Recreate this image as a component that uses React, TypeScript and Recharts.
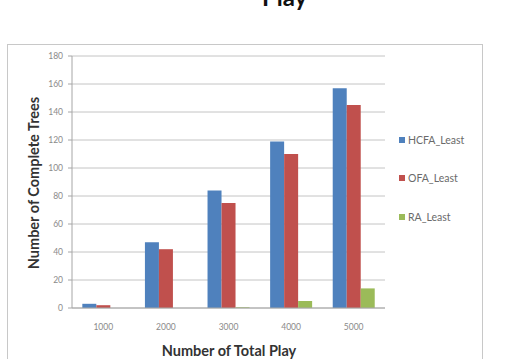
import { BarChart, Bar, XAxis, YAxis, CartesianGrid } from "recharts";

const plays = ["1000", "2000", "3000", "4000", "5000"];
const hcfaLeast = [3, 47, 84, 119, 157];
const ofaLeast = [2, 42, 75, 110, 145];
const raLeast = [0, 0, 0.5, 5, 14];
const yTicks = [0, 20, 40, 60, 80, 100, 120, 140, 160, 180];

const series = [
  { key: "HCFA_Least", color: "#4f81bd", values: hcfaLeast },
  { key: "OFA_Least", color: "#c0504d", values: ofaLeast },
  { key: "RA_Least", color: "#9bbb59", values: raLeast },
];

const data = plays.map((p, i) => ({
  play: p,
  HCFA_Least: hcfaLeast[i],
  OFA_Least: ofaLeast[i],
  RA_Least: raLeast[i],
}));

const font = "Lato, 'Open Sans', sans-serif";
const tick = { fill: "#8a8a8a", fontSize: 8.5, fontFamily: font };

export default function App() {
  return (
    <div
      style={{
        position: "absolute",
        left: 0,
        top: 0,
        width: 516,
        height: 359,
        overflow: "hidden",
        background: "#fff",
        fontFamily: font,
      }}
    >
      <div
        style={{
          position: "absolute",
          left: 262,
          top: -18,
          fontSize: 24,
          fontWeight: 700,
          color: "#111",
        }}
      >
        Play
      </div>
      <div
        style={{
          position: "absolute",
          left: 7,
          top: 44,
          width: 474,
          height: 330,
          border: "1px solid #c8c8c8",
        }}
      />
      <div style={{ position: "absolute", left: 0, top: 0 }}>
        <BarChart
          width={516}
          height={359}
          data={data}
          margin={{ top: 56, right: 131, bottom: 21, left: 0 }}
          barGap={0}
          barCategoryGap="16.5%"
        >
          <CartesianGrid vertical={false} stroke="#c4c4c4" />
          <XAxis
            dataKey="play"
            tick={tick}
            tickLine={false}
            axisLine={{ stroke: "#a6a6a6" }}
            tickMargin={10}
            height={30}
          />
          <YAxis
            domain={[0, 180]}
            ticks={yTicks}
            interval={0}
            tick={tick}
            tickLine={{ stroke: "#a6a6a6" }}
            tickSize={4}
            tickMargin={5}
            axisLine={{ stroke: "#a6a6a6" }}
            width={72}
          />
          {series.map((s) => (
            <Bar key={s.key} dataKey={s.key} fill={s.color} isAnimationActive={false} />
          ))}
        </BarChart>
      </div>
      <div
        style={{
          position: "absolute",
          left: 33,
          top: 183,
          transform: "translate(-50%, -50%) rotate(-90deg)",
          whiteSpace: "nowrap",
          fontSize: 14.5,
          fontWeight: 700,
          color: "#333",
        }}
      >
        Number of Complete Trees
      </div>
      <div
        style={{
          position: "absolute",
          left: 229,
          top: 350,
          transform: "translate(-50%, -50%)",
          whiteSpace: "nowrap",
          fontSize: 14.5,
          fontWeight: 700,
          color: "#333",
        }}
      >
        Number of Total Play
      </div>
      {series.map((s, i) => (
        <div
          key={s.key}
          style={{
            position: "absolute",
            left: 399,
            top: [140, 178, 217][i] - 7,
            display: "flex",
            alignItems: "center",
            fontSize: 10.5,
            color: "#6a6a6a",
            lineHeight: "14px",
          }}
        >
          <span
            style={{ width: 6, height: 6, background: s.color, marginRight: 3, display: "inline-block" }}
          />
          {s.key}
        </div>
      ))}
    </div>
  );
}
